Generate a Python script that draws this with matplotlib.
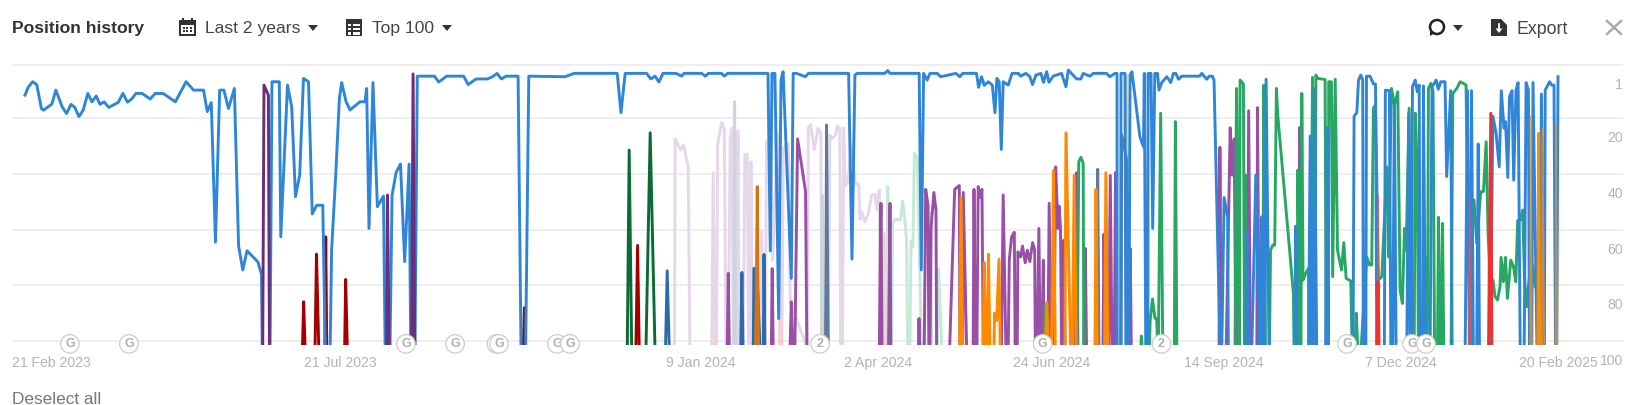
import matplotlib
matplotlib.use("Agg")
import matplotlib.pyplot as plt
from matplotlib.patches import Rectangle, Circle, Polygon
from matplotlib.transforms import ScaledTranslation

plt.rcParams['font.family'] = ['Liberation Sans', 'DejaVu Sans']

# x = days since 21 Feb 2023, y = position. 103 means out of the top 100
tick_days = [0, 150, 322, 406, 489, 571, 655, 730]
tick_labels = ["21 Feb 2023", "21 Jul 2023", "9 Jan 2024", "2 Apr 2024", "24 Jun 2024",
               "14 Sep 2024", "7 Dec 2024", "20 Feb 2025"]
positions = [1, 20, 40, 60, 80, 100]
position_labels = ["1", "20", "40", "60", "80", "100"]

update_days = [21.4, 49.5, 181.4, 204.8, 224.5, 225.7, 253.3, 259.5, 378.6, 484.6, 541.2, 629.5, 660.5, 667.1]
update_labels = ["G", "G", "G", "G", "G", "G", "G", "G", "2", "G", "2", "G", "G", "G"]

blue = [(0, 11.8), (1.5, 9), (3.6, 7), (5.6, 8), (7.8, 16.6), (8.8, 17.2), (12.8, 15), (14.7, 10), (17.7, 16),
        (19.8, 18.4), (21.9, 15.1), (23.7, 16.2), (25.7, 19.5), (27.7, 17.2), (29.9, 11.2), (31.9, 14.2),
        (33.9, 12.1), (35.7, 15.1), (37.7, 14.2), (39.9, 16.2), (44.4, 14.4), (46.6, 11.2), (48.8, 14.3),
        (50.8, 13.2), (52.8, 11.2), (55.8, 11.2), (59.6, 13.2), (62, 11.2), (65.8, 11.2), (71.6, 14.2),
        (76.7, 7), (80.3, 10), (85, 10), (86.8, 17.7), (88.7, 14.5), (90.7, 64.5), (92.7, 10), (94.7, 10),
        (96.9, 16.6), (99.7, 9.4), (101.7, 65.8), (103.7, 74.5), (105.7, 67.6), (110.9, 71.6), (112.6, 76),
        (113, 103), (116.7, 103), (117.6, 7), (121.1, 7), (121.8, 62.6), (125, 8.2), (127, 16), (128.8, 48.2),
        (130.8, 40.5), (132.6, 5.8), (135, 7), (136.8, 54.4), (138.9, 51.3), (141.8, 51.3), (143, 103),
        (145.3, 103), (146, 67.4), (148, 40), (149.7, 13), (150.8, 7.3), (152.9, 14.2), (154.8, 17.1),
        (159.5, 14.2), (161.9, 14.2), (162.7, 9.4), (163.8, 59.6), (165.7, 7.3), (167.8, 51.8), (170.7, 48),
        (171.5, 103), (173.8, 103), (174.8, 47.6), (176.7, 39.6), (178.8, 36.5), (180.8, 71.5), (182.9, 36.5),
        (183.7, 103), (185.7, 103), (186.8, 5), (195, 5), (197, 7.1), (200.8, 5), (208.9, 5), (211, 8),
        (214.8, 6), (220.2, 6), (222.6, 5.2), (224.8, 4), (226.8, 6), (229.1, 5), (234.8, 5), (236.2, 103),
        (238.4, 103), (239.9, 5), (257.1, 5.2), (261.4, 4), (282, 4), (283.8, 18.1), (285.8, 4), (296, 4),
        (298, 6), (300, 5), (301.9, 7.1), (303.8, 4), (310, 4), (312.7, 5), (313.8, 4), (322.2, 4), (324, 5),
        (325.4, 4), (331.7, 4), (333, 5), (334.6, 4), (353.8, 4), (354.9, 67.7), (355.7, 4), (357.1, 4),
        (358.9, 91.9), (360, 6.4), (361, 3.4), (364.9, 77.5), (365.8, 4), (367.4, 4), (371.6, 5.2), (373, 4),
        (392.2, 4), (393.8, 70.6), (395.2, 4.6), (396.3, 4), (409.5, 4), (410.8, 3), (411.9, 4), (425.8, 4),
        (426.8, 74.5), (427.9, 4), (429.6, 6.4), (430.9, 4), (434.4, 4), (436, 5.2), (443.3, 4), (445.2, 5.2),
        (446.5, 4), (453.1, 4), (454.1, 9), (455.5, 5.2), (456.8, 8.3), (458.7, 7), (460.6, 8.2), (461.9, 18.1),
        (462.8, 5.8), (463.9, 7), (464.9, 31.3), (465.8, 7), (468.2, 8.2), (470, 4), (473, 4), (474.1, 5),
        (476.6, 4), (478.5, 5.2), (479.8, 8), (481.4, 4.6), (483.8, 4), (485, 7.2), (486.5, 3.4), (487.6, 7.2),
        (489.6, 5), (493.6, 4), (495.7, 8.8), (496.8, 2.8), (500.8, 6), (502.8, 6), (503.9, 4), (507.1, 5),
        (508.7, 4), (515, 4), (516.6, 5.2), (519, 4), (520, 4), (520.1, 103), (521.7, 103), (521.9, 4),
        (523.8, 4), (524.2, 103), (525.7, 103), (526.2, 4.6), (527.1, 3.4), (530.9, 26.7), (532.6, 30.3),
        (533, 4), (533.7, 103), (534.7, 103), (534.8, 4), (536.2, 4), (537, 59.6), (538, 4), (539.3, 4),
        (540, 10), (541.3, 7.3), (543.7, 5.2), (545.6, 7.3), (546.9, 4), (548, 4), (549.3, 6.1), (550.8, 5),
        (559.3, 5), (560.4, 4), (562.7, 6.1), (563.9, 5), (565.4, 5), (566.2, 6.4), (569.1, 103), (569.9, 103),
        (571, 48.5), (572.7, 55.4), (573, 103), (581.5, 103), (581.8, 59.6), (582.6, 103), (584.2, 103),
        (586.1, 40.5), (587.7, 103), (588.5, 103), (589, 55.4), (589.7, 103), (590.3, 103), (591, 6.1),
        (592.4, 103), (604.8, 103), (605, 58.8), (605.6, 103), (611.2, 103), (612, 26.5), (612.7, 103),
        (613.5, 103), (614, 9.4), (615.1, 103), (619.4, 103), (620, 23.5), (620.7, 103), (632.4, 103),
        (632.9, 19.3), (634.2, 18.1), (635, 6.4), (636.1, 4.6), (637, 6.4), (637.3, 103), (638.5, 103),
        (638.8, 5), (640.5, 5), (642.1, 7.8), (643.1, 7.8), (643.7, 103), (647.3, 103), (647.8, 10),
        (649.7, 10.2), (650.4, 103), (651.3, 103), (652.1, 13.6), (652.9, 103), (658, 103), (658.9, 18.3),
        (659.6, 103), (660.2, 103), (660.7, 8.8), (662, 6.4), (663, 10.6), (663.9, 8.2), (664.3, 103),
        (665.6, 103), (665.9, 8.5), (666.9, 103), (669.1, 103), (670, 8.8), (671, 7.6), (672, 6.4), (673, 9.7),
        (674.2, 7), (676.2, 7), (677, 41), (678.9, 10.2), (679.6, 103), (685.8, 103), (686.9, 10.2),
        (687.8, 103), (688.3, 103), (688.8, 10.2), (689.7, 103), (691.3, 103), (692, 29.3), (692.6, 103),
        (697.7, 103), (699, 19.3), (700.5, 25.5), (702, 37.5), (703, 10.2), (704.3, 23.7), (705, 21.3),
        (706.1, 41.3), (706.9, 12.4), (708.1, 10.2), (708.9, 42.3), (710, 10), (711, 7.3), (712, 103),
        (713.9, 103), (714.8, 7.3), (715.9, 10), (716.4, 103), (717.5, 103), (718.1, 7.3), (720, 103),
        (721.5, 103), (722.1, 11.4), (723.1, 103), (723.5, 103), (723.9, 10), (726, 7), (727, 8.2), (728.1, 8.2),
        (728.8, 103), (729.4, 103), (730, 5.2)]

dark_purple = [(113.2, 103), (113.8, 8.2), (115.9, 11.8), (116.4, 103), (172.2, 103), (172.6, 47.6), (173.4, 103),
               (184.1, 103), (184.8, 4.2), (185.6, 103)]

dark_red = [(132.1, 103), (132.7, 85.9), (133.4, 103), (138.1, 103), (138.8, 68.8), (139.9, 103), (142.8, 103),
            (143.2, 62.6), (143.7, 103), (152.2, 103), (152.7, 77.9), (153.5, 103), (237.3, 103), (237.8, 88),
            (238.4, 103), (290.9, 103), (291.7, 65.7), (292.5, 103)]

dark_green = [(286.8, 103), (287.7, 31.5), (288.9, 103), (295.7, 103), (297.7, 25.3), (300, 103)]

dark_blue = [(305, 103), (305.8, 74.8), (306.8, 103), (340.8, 103), (341.4, 75.4), (341.9, 103), (346.8, 103),
             (347.1, 73.9), (348.7, 78.1), (349.5, 93), (350, 103), (351.6, 103), (351.9, 68.9), (352.3, 103)]

slate = [(381.2, 103), (381.7, 22.5), (382.5, 103), (510.3, 103), (510.8, 38.4), (511.4, 103), (522, 103),
         (522.2, 26), (524.6, 35), (524.8, 103)]

light_grey = [(337.6, 103), (337.9, 14.2), (338.4, 103), (379.2, 103), (379.6, 47.6), (380.1, 103)]

dark_orange = [(348, 103), (348.7, 44.6), (349.3, 103)]

yellow = [(380.3, 103), (380.6, 90), (380.9, 103), (524.4, 103), (524.7, 4.6), (525.4, 103)]

light_purple = [(309.3, 103), (309.6, 27.5), (312.3, 31.5), (313.6, 29.7), (315.8, 37.5), (316.6, 103), (327, 103),
                (327.7, 39.6), (328.5, 103), (329.3, 103), (329.8, 29.7), (331.7, 21.6), (333, 23.7), (333.8, 103),
                (334.9, 103), (335.8, 27.9), (336.6, 23.5), (337.3, 103), (338.9, 103), (339.5, 24.6), (340.1, 103),
                (342, 103), (342.8, 33), (343.9, 33), (344.6, 103), (345.2, 103), (345.7, 35.7), (346.5, 103),
                (350, 103), (350.8, 60.8), (351.6, 103), (352.5, 103), (353.1, 28.5), (355, 28.5), (356, 71),
                (358.4, 25.5), (359.5, 103), (360.4, 103), (361.1, 30.9), (363.5, 29.1), (364.4, 85.9), (372.7, 103),
                (373, 23.7), (374.1, 22.3), (375.8, 31.3), (377.7, 23.7), (379, 25.5), (379.5, 103), (382.5, 103),
                (383.3, 26.1), (383.8, 27.7), (386, 26.1), (386.8, 22.9), (388, 23.7), (388.4, 103), (389.3, 103),
                (389.8, 23.5), (390.6, 44.4), (391.9, 42.8), (393.5, 30), (395.5, 43.7), (397, 43.7), (397.6, 56.4),
                (398.4, 53.6), (400, 57.2), (401.6, 54.2), (403.2, 47.6), (404.7, 47.3), (405.8, 53), (406.8, 45.8),
                (407.1, 103)]

light_green = [(410.4, 103), (410.8, 44.6), (411.2, 103), (412.7, 103), (413.1, 57.8), (414.2, 56.4), (416.9, 56.4),
               (417.9, 49.7), (419, 56.6), (419.8, 63.8), (420.3, 103), (421.4, 103), (421.9, 64.1), (422.8, 66.2),
               (423.5, 32.7), (424.9, 34.1), (426.1, 75.7), (426.9, 103), (430.8, 103), (431.2, 54), (431.7, 103),
               (434.4, 103), (435, 74), (436.6, 103)]

pink = [(328.5, 103), (328.9, 98.8), (329.5, 103), (359.2, 103), (359.5, 92.5), (360.6, 103), (408.7, 103),
        (409, 61.4), (409.4, 103)]

purple = [(334.4, 103), (334.9, 75.7), (335.4, 103), (355.4, 103), (355.8, 74), (356.3, 103), (364.3, 103),
          (364.9, 85.9), (365.5, 103), (366.6, 103), (367.9, 27.5), (371.7, 46.4), (372.3, 103), (406.8, 103),
          (407.6, 50.6), (408.1, 103), (411.2, 103), (411.9, 50.6), (412.3, 103), (425.4, 103), (425.7, 91.9),
          (426.1, 103), (428.2, 103), (428.9, 45.6), (430, 51.2), (430.4, 103), (430.9, 103), (431.5, 59),
          (432.8, 46.7), (433.8, 53), (434.1, 103), (440.3, 103), (442.7, 45.6), (444.9, 44.2), (445.2, 103),
          (446.5, 103), (446.8, 46.7), (448.4, 103), (451.5, 103), (451.9, 45.6), (452.5, 103), (453.3, 103),
          (453.9, 44.6), (454.6, 48.5), (455.7, 45.6), (456.3, 103), (465, 103), (465.8, 47.6), (467.1, 103),
          (468.2, 103), (468.7, 71), (469.8, 62.6), (471.1, 61), (471.5, 103), (472.5, 103), (472.8, 68),
          (474.1, 69.8), (475, 65.9), (476.3, 71.9), (477.3, 67.4), (478.5, 71.5), (479.8, 64.7), (480.8, 67.4),
          (481.1, 103), (482, 103), (482.8, 59.6), (483.4, 103), (484.2, 103), (484.9, 71), (485.3, 103),
          (487.1, 103), (487.7, 50.6), (488.5, 103), (490, 103), (490.8, 37.5), (491.9, 59.6), (492.5, 51.6),
          (493.1, 59.6), (493.6, 103), (494.2, 103), (494.7, 63.8), (495.3, 103), (500, 103), (500.7, 39.6),
          (501.4, 103), (504.2, 103), (504.9, 66.8), (505.5, 103), (513.3, 103), (513.8, 61.6), (514.4, 103),
          (516, 103), (516.8, 40.6), (517.6, 103), (518.7, 103), (519.3, 39.6), (519.8, 103), (525.8, 103),
          (526.3, 66.8), (526.8, 103), (568.6, 103), (569, 30.5), (569.6, 103), (572, 103), (573.9, 23.5),
          (574.8, 40.5), (575.8, 27.5), (576.6, 103), (577.6, 103), (578, 35.7), (578.4, 103), (582.1, 103),
          (582.7, 17.4), (583.5, 103), (586.6, 103), (586.9, 16.3), (587.7, 103), (606.6, 103), (606.9, 23.5),
          (607.3, 103)]

green = [(485.2, 103), (485.7, 87), (486, 103), (501, 103), (501.8, 35.7), (502.8, 34.1), (503.9, 36.3), (504.2, 103),
         (531.3, 103), (531.6, 98.2), (532, 103), (535.4, 103), (535.8, 92.5), (536.9, 84.9), (538.1, 91.9),
         (538.9, 91.9), (539.4, 103), (539.7, 103), (540.8, 18.3), (541.8, 103), (547.3, 103), (547.8, 21.3),
         (548.5, 103), (576.2, 103), (576.9, 9.4), (578, 103), (578.3, 103), (578.6, 6.4), (580.2, 7.8), (580.7, 103),
         (580.9, 103), (581.2, 40.5), (581.6, 103), (589.4, 103), (589.9, 8.2), (590.7, 103), (592.6, 103),
         (593.1, 67.4), (594.2, 65.6), (595.1, 65.6), (595.9, 9.4), (596.6, 19.5), (604, 82.9), (604.3, 103),
         (605.9, 103), (606.1, 38.7), (607, 103), (607.6, 103), (608, 11.2), (608.6, 78.1), (609.9, 75.7),
         (611.2, 73.9), (611.4, 103), (612.1, 103), (613.1, 5.4), (613.9, 103), (614.3, 103), (614.7, 4.6),
         (615.6, 5.8), (619.1, 6.2), (619.6, 103), (620.7, 103), (620.8, 7), (622.1, 7), (622.7, 76.9), (623.9, 6.1),
         (625, 67.4), (626.9, 74.5), (628, 64.7), (629.1, 77.5), (631.3, 78.4), (632, 103), (633.4, 103), (633.9, 90),
         (634.7, 103), (636.2, 103), (638.9, 69.8), (640.2, 72.7), (641.3, 72.7), (642.1, 16.5), (643.1, 15.3),
         (644.5, 78.1), (646.1, 76.9), (648.5, 37.5), (649.3, 69.8), (650.7, 9.4), (652.1, 15.3), (653.7, 10.6),
         (654.8, 81.7), (655.9, 86.5), (656.9, 59.6), (657.7, 67.4), (659.1, 16.5), (660, 103), (661.5, 103),
         (662.1, 18.3), (663.1, 43.7), (663.5, 103), (666.2, 103), (666.6, 69.8), (667.5, 103), (667.8, 103),
         (668.3, 9.4), (669.4, 7.6), (670.5, 10.6), (671.2, 103), (672.6, 103), (673.1, 55.6), (673.9, 103),
         (674.5, 103), (675, 57.8), (675.6, 103), (679.1, 103), (679.9, 11.2), (681.8, 9.4), (683.4, 7), (685, 7.6),
         (686.2, 8.2), (686.9, 47), (688.5, 62), (690, 49.4), (691.3, 65), (693.2, 46.4), (694.5, 46.4), (695.8, 28.5),
         (696.7, 61.4), (697.7, 78.1), (699, 78.1), (700, 84), (701.2, 85.3), (702.4, 80.5), (702.9, 70), (704, 78.7),
         (705, 70), (705.9, 84.7), (707.5, 71), (708.8, 73.3), (709.9, 78.7), (710.8, 56.8), (712, 56.6), (713.2, 53),
         (714, 76.9), (715.1, 87.7), (716.4, 76.9), (718, 72.7), (719.1, 80.5), (720.7, 81.7), (721, 103)]

orange = [(445, 103), (445.7, 48.6), (446.5, 103), (456.2, 103), (456.8, 71.8), (457.4, 103), (458.2, 103), (458.8, 68.8),
          (459.5, 103), (461.4, 103), (461.7, 90), (462.7, 92.7), (463.8, 70.7), (464.4, 103), (486, 103), (486.6, 86.1),
          (487.4, 103), (488.8, 103), (489.8, 38.7), (490.6, 103), (495.2, 103), (495.7, 25.3), (497.9, 103), (498.8, 103),
          (499.6, 40.5), (500.6, 103), (509.5, 103), (510, 45.6), (510.6, 103), (514.1, 103), (514.7, 39.6), (515.7, 103),
          (720.4, 103), (720.8, 25.5), (721.3, 103)]

faded_orange = [(716.7, 103), (717, 19.3), (717.5, 103), (722.3, 103), (722.7, 23.5), (723.4, 103), (728.8, 103),
                (729.1, 22.3), (729.6, 103)]

red = [(643.7, 103), (644.3, 78.7), (644.8, 103), (696.9, 103), (698, 18.3), (698.5, 103)]

faded_red = [(644, 103), (644.3, 47.6), (644.5, 103), (687.5, 103), (688, 47.6), (688.5, 103)]

fig = plt.figure(figsize=(16.38, 4.05), dpi=100)
W, H = 1638, 405

# chart area in pixels: x 12-1623, y 60-345
ax = fig.add_axes([12 / W, 1 - 345 / H, (1623 - 12) / W, (345 - 60) / H])
ax.set_xlim(-6.19, 760.95)
ax.set_ylim(101.4, -0.8)
for side in ax.spines:
    ax.spines[side].set_visible(False)
ax.set_yticks(positions)
ax.set_yticklabels([])
ax.set_xticks(tick_days)
ax.set_xticklabels(tick_labels, fontsize=10.1, color='#b4b4b4', va='baseline')
ax.tick_params(length=0, pad=16)
ax.yaxis.grid(True, color='#eeeeee', lw=1.4)
ax.set_axisbelow(True)

# first label is pushed in so it stays on the chart
first = ax.get_xticklabels()[0]
first.set_transform(first.get_transform() + ScaledTranslation(26 / 100, 0, fig.dpi_scale_trans))

for p, lab in zip(positions, position_labels):
    ax.annotate(lab, xy=(1, p), xycoords=ax.get_yaxis_transform(), xytext=(0, -14.5),
                textcoords='offset points', ha='right', va='center', fontsize=10.1, color='#b4b4b4',
                annotation_clip=False)

series = [
    (light_purple, '#e6d6ea', 2.1, 1),
    (light_green, '#c4e9d5', 2.1, 1),
    (pink, '#f6cfd0', 2.1, 1),
    (light_grey, '#ccd5dc', 2.1, 1),
    (yellow, '#f2d25e', 1.4, 1),
    (dark_green, '#0b6b35', 2.1, 1),
    (dark_red, '#a50000', 2.1, 1),
    (dark_blue, '#2a6cab', 2.1, 1),
    (dark_orange, '#d9720a', 2.1, 1),
    (slate, '#5e7b9b', 2.1, 1),
    (purple, '#994fa6', 2.1, 1),
    (green, '#27a762', 2.1, 1),
    (blue, '#2f86d8', 2.1, 1),
    (dark_purple, '#6c2e78', 2.1, 1),
    (faded_red, '#f05050', 1.0, 0.8),
    (red, '#f2302f', 2.1, 1),
    (orange, '#ff8a00', 2.1, 1),
    (faded_orange, '#e8902a', 1.3, 0.8),
]
for points, color, width, alpha in series:
    days, pos = zip(*points)
    ax.plot(days, pos, color=color, lw=width, alpha=alpha)

for d, lab in zip(update_days, update_labels):
    ax.annotate(lab, xy=(d, 101), xycoords='data', ha='center', va='center', fontsize=9, fontweight='bold',
                color='#b0b0b0', annotation_clip=False, zorder=10,
                bbox=dict(boxstyle='circle,pad=0.26', fc='white', ec='#cccccc', lw=0.9))

# header and footer, laid out in pixels
top = fig.add_axes([0, 0, 1, 1], zorder=5)
top.set_xlim(0, W)
top.set_ylim(H, 0)
top.axis('off')

dark = '#333333'
top.text(12, 29, "Position history", fontsize=12.6, fontweight='bold', color=dark, va='center')
top.text(205, 29, "Last 2 years", fontsize=12.6, color='#444444', va='center')
top.text(372, 29, "Top 100", fontsize=12.6, color='#444444', va='center')
top.text(1517, 29, "Export", fontsize=12.8, color='#444444', va='center')
top.text(12, 400, "Deselect all", fontsize=12.4, color='#777777', va='center')

for cx in [313, 447, 1458]:
    top.add_patch(Polygon([(cx - 5, 25), (cx + 5, 25), (cx, 31)], fc=dark, ec='none'))

# calendar icon
top.add_patch(Rectangle((179, 20), 17, 16, fc=dark, ec='none'))
top.add_patch(Rectangle((181, 25), 13, 9, fc='white', ec='none'))
top.add_patch(Rectangle((182, 18), 2, 4, fc=dark, ec='none'))
top.add_patch(Rectangle((191, 18), 2, 4, fc=dark, ec='none'))
for cy in [27, 30]:
    for cx in [182.5, 186, 189.5]:
        top.add_patch(Rectangle((cx, cy), 2.2, 2.2, fc=dark, ec='none'))

# table icon
top.add_patch(Rectangle((346, 19), 16, 17, fc=dark, ec='none'))
for cy in [23.5, 27.8, 32]:
    top.add_patch(Rectangle((348, cy), 3, 2.5, fc='white', ec='none'))
    top.add_patch(Rectangle((352.5, cy), 7.5, 2.5, fc='white', ec='none'))

# comment bubble
top.add_patch(Circle((1437, 27), 7, fc='white', ec='#222222', lw=1.8))
top.add_patch(Polygon([(1430, 29), (1435, 33), (1430, 36)], fc='#222222', ec='none'))

# export icon
top.add_patch(Polygon([(1491, 19), (1501, 19), (1507, 25), (1507, 36), (1491, 36)], fc=dark, ec='none'))
top.plot([1499, 1499], [24, 30], color='white', lw=1.3)
top.add_patch(Polygon([(1495.5, 28.5), (1502.5, 28.5), (1499, 33)], fc='white', ec='none'))

# close
top.plot([1607, 1621], [21, 34], color='#a8a8a8', lw=1.7)
top.plot([1607, 1621], [34, 21], color='#a8a8a8', lw=1.7)

fig.savefig("out.png", dpi=100)
